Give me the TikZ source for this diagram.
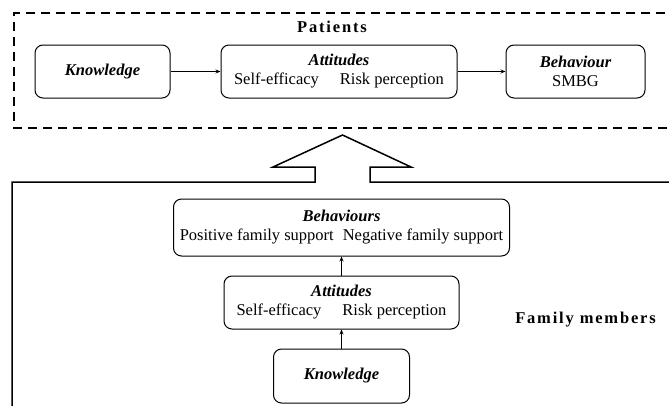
\documentclass[tikz,border=0pt]{standalone}
\usepackage{fontspec}
\setmainfont{Liberation Serif}[BoldFont={Liberation Serif Bold}, ItalicFont={Liberation Serif Italic}, BoldItalicFont={Liberation Serif Bold Italic}]
\newfontfamily\spacedbf[LetterSpace=11]{Liberation Serif Bold}
\newfontfamily\titlefont{Liberation Serif Bold Italic}
\usetikzlibrary{arrows.meta}
\begin{document}
\begin{tikzpicture}[x=1pt,y=-1pt,
  box/.style={draw, rounded corners=8pt, line width=1pt, inner sep=0pt, align=center,
    font=\fontsize{16.5}{19}\selectfont},
  conn/.style={line width=0.9pt, -{Stealth[length=5pt,width=4pt]}},
  frame/.style={line width=1.5pt},
  grouplabel/.style={font=\spacedbf\fontsize{16.5}{19}\selectfont, inner sep=0pt}]
\useasboundingbox (0,0) rectangle (669,405);
\clip (0,0) rectangle (669,405);
% Patients frame
\draw[frame, dash pattern=on 9pt off 6pt] (680,13) -- (14,13) -- (14,128) -- (680,128);
\node[grouplabel] (patients) at (332,27) {Patients};
\node[box, minimum width=135pt, minimum height=53pt] (pk) at (102.5,71.5) {{\titlefont Knowledge}};
\node[box, minimum width=236pt, minimum height=53pt] (pa) at (339,71.5) {{\titlefont Attitudes}\\Self-efficacy\hspace{21pt}Risk perception};
\node[box, minimum width=139pt, minimum height=53pt] (pb) at (575.5,71.5) {{\titlefont Behaviour}\\SMBG};
\draw[conn] (pk) -- (pa);
\draw[conn] (pa) -- (pb);
% Family frame with hollow arrow
\draw[frame, line join=miter] (12,420) -- (12,182) -- (315,182) -- (315,167) -- (273,167) -- (342.5,135)
  -- (411,167) -- (370,167) -- (370,182) -- (680,182);
\node[grouplabel] (family) at (585.5,320) {Family members};
\node[box, minimum width=336pt, minimum height=57pt] (fb) at (341.5,227.5) {{\titlefont Behaviours}\\Positive family support\hspace{9pt}Negative family support};
\node[box, minimum width=235pt, minimum height=53pt] (fa) at (341.5,302.5) {{\titlefont Attitudes}\\Self-efficacy\hspace{21pt}Risk perception};
\node[box, minimum width=136pt, minimum height=54pt] (fk) at (341.5,376) {{\titlefont Knowledge}};
\draw[conn] (fk) -- (fa);
\draw[conn] (fa) -- (fb);
\end{tikzpicture}
\end{document}
